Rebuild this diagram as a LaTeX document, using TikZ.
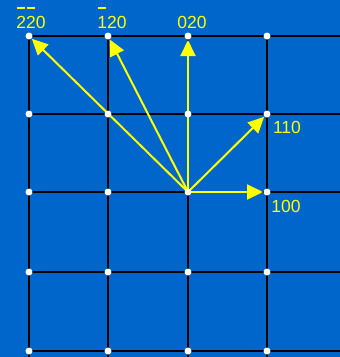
\documentclass[tikz,border=0pt]{standalone}
\usepackage{fontspec}
\setmainfont{Liberation Sans}
\usetikzlibrary{arrows.meta}
\definecolor{bgblue}{HTML}{0066CC}
\definecolor{vecyellow}{HTML}{FFFF00}
\newlength{\digitw}
\newcommand{\negdigit}[1]{\settowidth{\digitw}{#1}\makebox[0pt][l]{\hspace{0.08\digitw}\textcolor{vecyellow}{\rule[1.08em]{0.84\digitw}{0.1em}}}#1}

\begin{document}
\begin{tikzpicture}[x=1pt, y=-1pt, >={Triangle[length=16pt,width=15pt]},
    gridline/.style={line width=1.3pt, black},
    vec/.style={vecyellow, line width=2pt, ->, shorten >=4pt},
    lbl/.style={color=vecyellow, font=\fontsize{17.5}{19}\selectfont, inner sep=0pt}]
  % Background
  \fill[bgblue] (0,0) rectangle (340,357);
  \useasboundingbox (0,0) rectangle (340,357);
  % Lattice points
  \foreach \i/\x in {0/29, 1/108, 2/188, 3/267}
    \foreach \j/\y in {0/36, 1/114, 2/192, 3/272, 4/351}
      \coordinate (p\i\j) at (\x,\y);
  % Grid lines
  \foreach \j in {0,...,4}
    \draw[gridline] (p0\j) -- ++(320,0);
  \foreach \i in {0,...,3}
    \draw[gridline] (p\i0) -- ++(0,330);
  % Reciprocal lattice vectors
  \draw[vec] (p22) -- (p00);
  \draw[vec] (p22) -- (p10);
  \draw[vec] (p22) -- (p20);
  \draw[vec] (p22) -- (p31);
  \draw[vec] (p22) -- (p32);
  % Lattice dots
  \foreach \i in {0,...,3}
    \foreach \j in {0,...,4}
      \fill[white] (p\i\j) circle (3.5pt);
  % Labels
  \node[lbl, anchor=base] (l220) at (31,28) {\negdigit{2}\negdigit{2}0};
  \node[lbl, anchor=base] (l120) at (112,28) {\negdigit{1}20};
  \node[lbl, anchor=base] (l020) at (192,28) {020};
  \node[lbl, anchor=base] (l110) at (287,133) {110};
  \node[lbl, anchor=base] (l100) at (286,212) {100};
\end{tikzpicture}
\end{document}
